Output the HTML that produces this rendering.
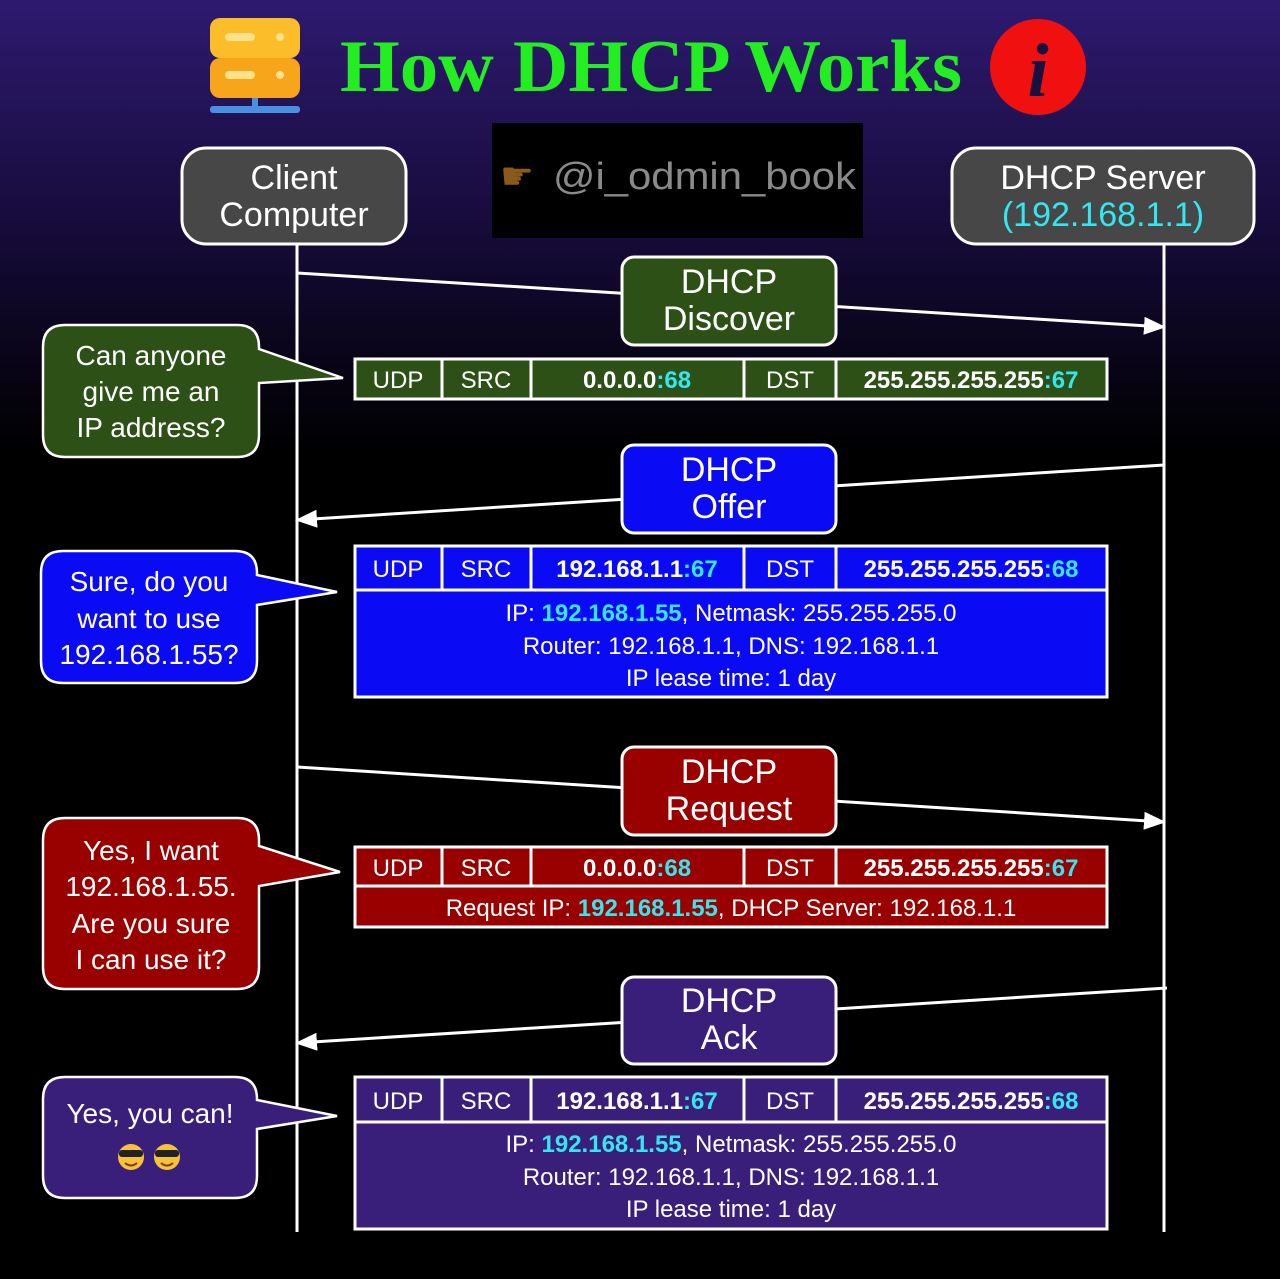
<!DOCTYPE html>
<html><head><meta charset="utf-8"><style>
html,body{margin:0;padding:0;background:#000}
svg{display:block}
text{font-family:"Liberation Sans","DejaVu Sans",sans-serif;fill:#fff}
.c{fill:#33e6f0}
</style></head><body>
<svg width="1280" height="1279" viewBox="0 0 1280 1279" xmlns="http://www.w3.org/2000/svg">
<defs>
<linearGradient id="bg" x1="0" y1="0" x2="0" y2="1">
<stop offset="0" stop-color="#2e1a70"/><stop offset="0.55" stop-color="#140a35"/><stop offset="1" stop-color="#000"/>
</linearGradient>
<marker id="ah" markerWidth="22" markerHeight="18" refX="20" refY="9" orient="auto" markerUnits="userSpaceOnUse" viewBox="0 0 22 18">
<path d="M0,0 L22,9 L0,18 Z" fill="#fff"/></marker>
</defs>
<rect width="1280" height="1279" fill="#000"/>
<rect width="1280" height="450" fill="url(#bg)"/>
<!-- icon -->
<rect x="210" y="18" width="90" height="40" rx="10" fill="#fbbd2a"/>
<rect x="210" y="58" width="90" height="40" rx="10" fill="#f7a61c"/>
<rect x="225" y="33" width="30" height="8" rx="4" fill="#fde08a"/>
<rect x="225" y="71" width="30" height="8" rx="4" fill="#fde08a"/>
<circle cx="280" cy="37" r="4" fill="#fde08a"/><circle cx="280" cy="75" r="4" fill="#fde08a"/>
<rect x="252" y="98" width="6" height="10" fill="#4a90e2"/>
<rect x="210" y="106" width="90" height="7" rx="3" fill="#4a90e2"/>
<text x="340" y="91" font-weight="bold" font-size="74" style="fill:#22ee22;font-family:'Liberation Serif',serif" textLength="622" lengthAdjust="spacingAndGlyphs">How DHCP Works</text>
<circle cx="1038" cy="67" r="48" fill="#f01010"/>
<text x="1038" y="96" text-anchor="middle" font-size="76" font-weight="bold" font-style="italic" style="font-family:'Liberation Serif',serif;fill:#1a1040">i</text>
<!-- watermark -->
<rect x="492" y="123" width="371" height="115" fill="#000"/>
<text x="500" y="189" font-size="38" style="fill:#8b5a1a">☛</text>
<text x="553" y="189" font-size="38" style="fill:#8a8a8a" textLength="303" lengthAdjust="spacingAndGlyphs">@i_odmin_book</text>
<!-- actors -->
<rect x="182" y="148" width="224" height="96" rx="24" fill="#474747" stroke="#fff" stroke-width="3"/>
<text x="294" y="189" text-anchor="middle" font-size="34">Client</text>
<text x="294" y="226" text-anchor="middle" font-size="34">Computer</text>
<rect x="952" y="148" width="302" height="96" rx="24" fill="#474747" stroke="#fff" stroke-width="3"/>
<text x="1103" y="189" text-anchor="middle" font-size="34">DHCP Server</text>
<text x="1103" y="226" text-anchor="middle" font-size="34" class="c">(192.168.1.1)</text>
<!-- lifelines -->
<line x1="297" y1="244" x2="297" y2="1232" stroke="#fff" stroke-width="3"/>
<line x1="1164" y1="244" x2="1164" y2="1232" stroke="#fff" stroke-width="3"/>
<!-- arrows -->
<g stroke="#fff" stroke-width="3" marker-end="url(#ah)">
<line x1="297" y1="273" x2="1164" y2="327"/>
<line x1="1164" y1="465" x2="297" y2="520"/>
<line x1="297" y1="767" x2="1164" y2="822"/>
<line x1="1167" y1="988" x2="297" y2="1043"/>
</g>
<!-- message boxes -->
<g stroke="#fff" stroke-width="3">
<rect x="622" y="257" width="214" height="88" rx="12" fill="#2d5016"/>
<rect x="622" y="445" width="214" height="88" rx="12" fill="#0a0af5"/>
<rect x="622" y="747" width="214" height="88" rx="12" fill="#990000"/>
<rect x="622" y="977" width="214" height="87" rx="12" fill="#3a1f7a"/>
</g>
<g font-size="34" text-anchor="middle">
<text x="729" y="293">DHCP</text><text x="729" y="330">Discover</text>
<text x="729" y="481">DHCP</text><text x="729" y="518">Offer</text>
<text x="729" y="783">DHCP</text><text x="729" y="820">Request</text>
<text x="729" y="1012">DHCP</text><text x="729" y="1049">Ack</text>
</g>
<!-- tables -->
<g stroke="#fff" stroke-width="3">
<rect x="355" y="359" width="752" height="40" fill="#2d5016"/>
<path d="M442 359V399M531 359V399M744 359V399M836 359V399"/>
<rect x="355" y="546" width="752" height="151" fill="#0a0af5"/>
<path d="M355 590H1107M442 546V590M531 546V590M744 546V590M836 546V590"/>
<rect x="355" y="847" width="752" height="80" fill="#990000"/>
<path d="M355 886H1107M442 847V886M531 847V886M744 847V886M836 847V886"/>
<rect x="355" y="1077" width="752" height="152" fill="#3a1f7a"/>
<path d="M355 1122H1107M442 1077V1122M531 1077V1122M744 1077V1122M836 1077V1122"/>
</g>
<g font-size="24" text-anchor="middle">
<text x="398" y="388">UDP</text><text x="486" y="388">SRC</text><text x="790" y="388">DST</text>
<text x="637" y="388" font-weight="bold">0.0.0.0<tspan class="c">:68</tspan></text>
<text x="971" y="388" font-weight="bold">255.255.255.255<tspan class="c">:67</tspan></text>
<text x="398" y="577">UDP</text><text x="486" y="577">SRC</text><text x="790" y="577">DST</text>
<text x="637" y="577" font-weight="bold">192.168.1.1<tspan class="c">:67</tspan></text>
<text x="971" y="577" font-weight="bold">255.255.255.255<tspan class="c">:68</tspan></text>
<text x="731" y="621">IP: <tspan class="c" font-weight="bold">192.168.1.55</tspan>, Netmask: 255.255.255.0</text>
<text x="731" y="654">Router: 192.168.1.1, DNS: 192.168.1.1</text>
<text x="731" y="686">IP lease time: 1 day</text>
<text x="398" y="876">UDP</text><text x="486" y="876">SRC</text><text x="790" y="876">DST</text>
<text x="637" y="876" font-weight="bold">0.0.0.0<tspan class="c">:68</tspan></text>
<text x="971" y="876" font-weight="bold">255.255.255.255<tspan class="c">:67</tspan></text>
<text x="731" y="916">Request IP: <tspan class="c" font-weight="bold">192.168.1.55</tspan>,  DHCP Server: 192.168.1.1</text>
<text x="398" y="1109">UDP</text><text x="486" y="1109">SRC</text><text x="790" y="1109">DST</text>
<text x="637" y="1109" font-weight="bold">192.168.1.1<tspan class="c">:67</tspan></text>
<text x="971" y="1109" font-weight="bold">255.255.255.255<tspan class="c">:68</tspan></text>
<text x="731" y="1152">IP: <tspan class="c" font-weight="bold">192.168.1.55</tspan>, Netmask: 255.255.255.0</text>
<text x="731" y="1185">Router: 192.168.1.1, DNS: 192.168.1.1</text>
<text x="731" y="1217">IP lease time: 1 day</text>
</g>
<!-- bubbles -->
<g stroke="#fff" stroke-width="2.5">
<path d="M65 325H237Q259 325 259 347V349L343 378L259 383V435Q259 457 237 457H65Q43 457 43 435V347Q43 325 65 325Z" fill="#2d5016"/>
<path d="M63 551H235Q257 551 257 573V575L337 592L257 605V661Q257 683 235 683H63Q41 683 41 661V573Q41 551 63 551Z" fill="#0a0af5"/>
<path d="M65 818H237Q259 818 259 840V846L340 872L259 886V967Q259 989 237 989H65Q43 989 43 967V840Q43 818 65 818Z" fill="#990000"/>
<path d="M65 1077H235Q257 1077 257 1099V1100L337 1116L257 1129V1176Q257 1198 235 1198H65Q43 1198 43 1176V1099Q43 1077 65 1077Z" fill="#3a1f7a"/>
</g>
<g font-size="28" text-anchor="middle">
<text x="151" y="365">Can anyone</text><text x="151" y="401">give me an</text><text x="151" y="437">IP address?</text>
<text x="149" y="591">Sure, do you</text><text x="149" y="628">want to use</text><text x="149" y="664">192.168.1.55?</text>
<text x="151" y="860">Yes, I want</text><text x="151" y="896">192.168.1.55.</text><text x="151" y="933">Are you sure</text><text x="151" y="969">I can use it?</text>
<text x="150" y="1123">Yes, you can!</text>
</g>
<g>
<circle cx="131" cy="1157" r="13" fill="#f7c23a"/><circle cx="167" cy="1157" r="13" fill="#f7c23a"/>
<rect x="119" y="1150" width="24" height="7" rx="3" fill="#222"/><rect x="155" y="1150" width="24" height="7" rx="3" fill="#222"/>
<path d="M125 1163Q131 1168 137 1163M161 1163Q167 1168 173 1163" stroke="#7a3b00" stroke-width="2" fill="none"/>
</g>
</svg>
</body></html>
